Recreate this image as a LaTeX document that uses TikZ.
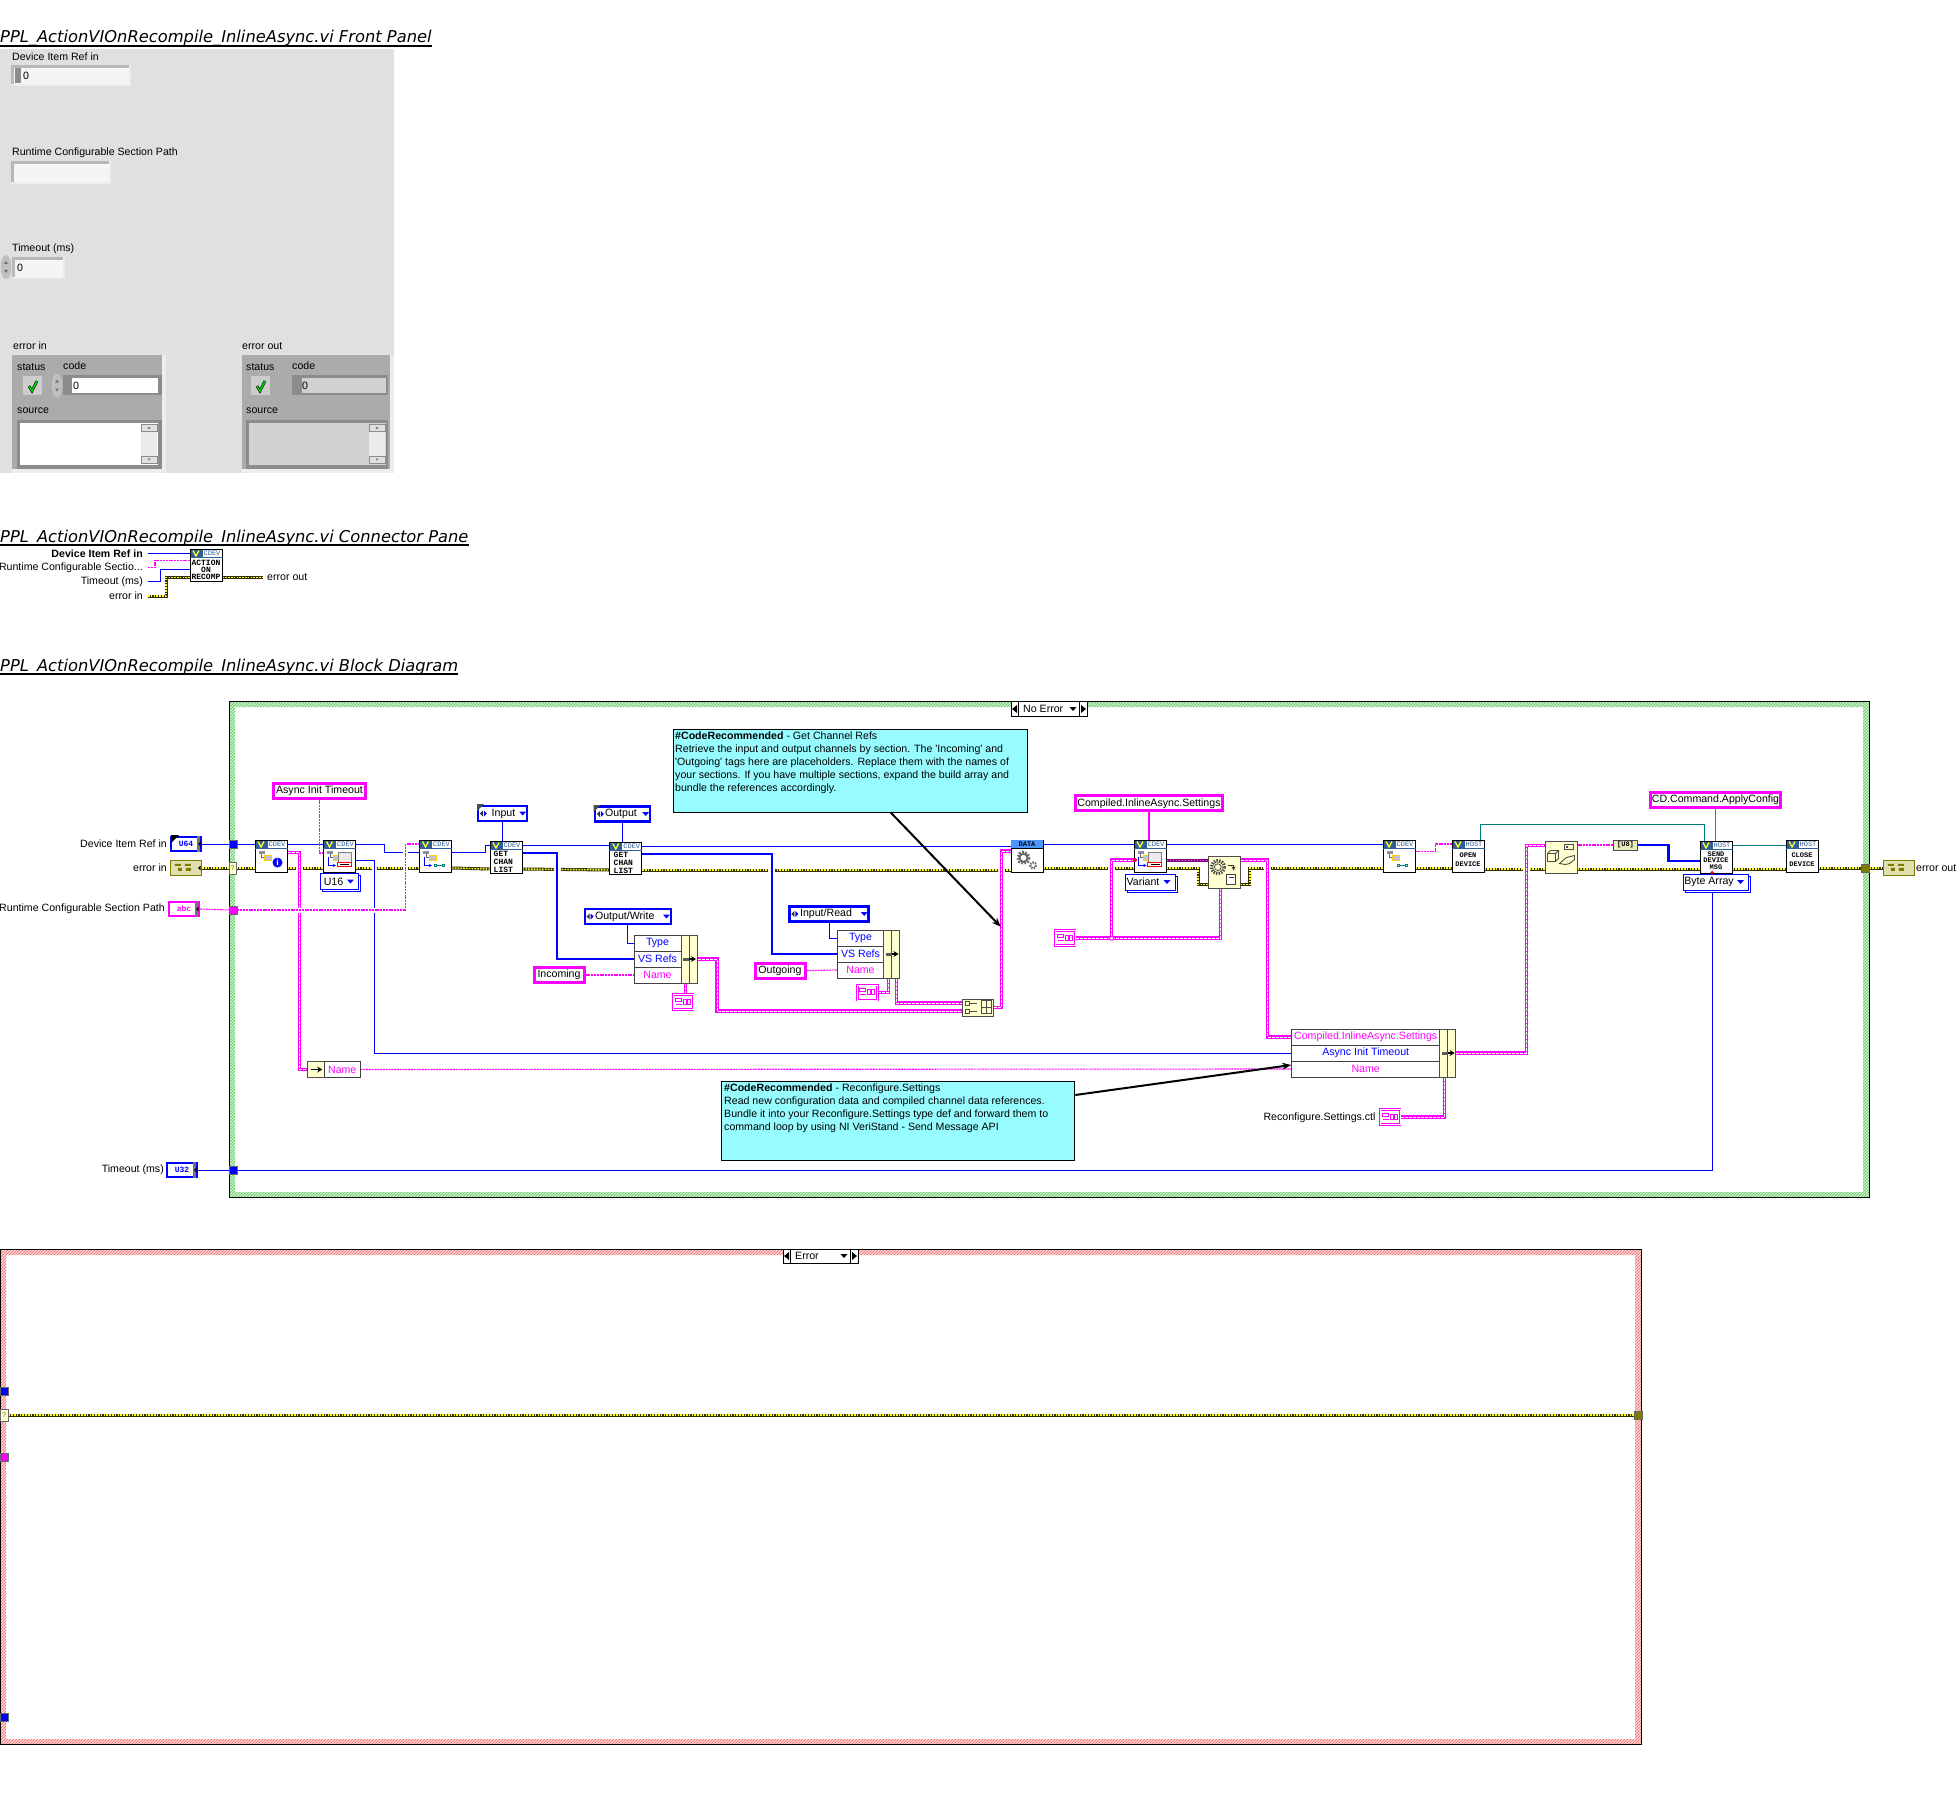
\documentclass[tikz,border=0pt]{standalone}
\usepackage{fontspec}
\setmainfont{Liberation Sans}
\setmonofont{Liberation Mono}
\newfontfamily\titlefont{DejaVu Sans}
\usetikzlibrary{arrows.meta,positioning,calc,backgrounds,patterns,shadows}
\definecolor{lvpink}{HTML}{FF00FF}
\definecolor{lvblue}{HTML}{0000FF}
\definecolor{lvolive}{HTML}{7F7A00}
\definecolor{lvyel}{HTML}{FFFF2E}
\definecolor{lvteal}{HTML}{007C7C}
\definecolor{lvpurple}{HTML}{800080}
\definecolor{hdblue}{HTML}{2F5F96}
\definecolor{cream}{HTML}{FFFFCF}
\definecolor{notecyan}{HTML}{96FCFF}
\definecolor{fpgray}{HTML}{E0E0E0}
\definecolor{clgray}{HTML}{ABABAB}
\definecolor{tgray}{HTML}{8C8C9C}
\definecolor{hatchg}{HTML}{5DBE5D}
\definecolor{baseg}{HTML}{CDF2CD}
\definecolor{hatchr}{HTML}{EE6666}
\definecolor{baser}{HTML}{FFD6D6}
% a front panel field: light rim, dark top and left edge, then the face
\newcommand{\fpbox}[5]{%
  \fill[white!93!black] (#1,#2) rectangle (#3,#4);
  \fill[black!28] (#1,#2) rectangle ($(#3,#4)+(-2,-2)$);
  \fill[#5] ($(#1,#2)+(3,3)$) rectangle ($(#3,#4)+(-2,-2)$);}
\newcommand{\fpspin}[2]{%
  \fill[black!25] (#1,#2) ellipse (5.5 and 12);
  \fill[black!55] ($(#1,#2)+(-2,-3)$) -- ++(4,0) -- ++(-2,-3) -- cycle;
  \fill[black!55] ($(#1,#2)+(-2,3)$) -- ++(4,0) -- ++(-2,3) -- cycle;}
\newcommand{\fpcheck}[2]{%
  \fill[black!20] (#1,#2) rectangle ++(19,19);
  \draw[black,line width=2.6] ($(#1,#2)+(6,10)$) -- ++(3,5) -- ++(5,-10);
  \draw[green!85!black,line width=1.4] ($(#1,#2)+(6,10)$) -- ++(3,5) -- ++(5,-10);}
\newcommand{\fpscroll}[3]{%
  \fill[black!8] (#1,#2) rectangle ++(16,#3);
  \draw[black!45,fill=black!12] (#1,#2) rectangle ++(16,7);
  \draw[black!45,fill=black!12] ($(#1,#2)+(0,#3-7)$) rectangle ++(16,7);
  \fill[black!60] ($(#1,#2)+(6.5,4.5)$) -- ++(3,0) -- ++(-1.5,-2) -- cycle;
  \fill[black!60] ($(#1,#2)+(6.5,#3-4.5)$) -- ++(3,0) -- ++(-1.5,2) -- cycle;}
% little pictures inside the icons, px offsets from the north west corner
\newcommand{\gltree}[1]{\begin{scope}[shift=(#1.north west)]
  \fill[tgray] (4,11) rectangle (10,14);
  \draw[black!60,line width=.7] (7,14) |- (10,18);
  \draw[orange!40!yellow,fill=tgray!50,line width=1] (10,15.5) rectangle (17,21);
  \end{scope}}
\newcommand{\glblue}[1]{\begin{scope}[shift=(#1.north west)]
  \draw[lvblue,line width=.9,-{Stealth[length=3pt,width=3pt]}] (5,17) |- (13,26);
  \end{scope}}
\newcommand{\glpanel}[1]{\begin{scope}[shift=(#1.north west)]
  \draw[black!50,fill=black!8,line width=.8] (15,13) rectangle (28,27);
  \draw[red,line width=1,fill=white] (14,23) rectangle (28,27);
  \draw[black,line width=.8] (17,25) -- (26,25);
  \end{scope}}
\newcommand{\glkey}[1]{\begin{scope}[shift=(#1.north west)]
  \draw[lvteal,line width=.9] (15,25) rectangle ++(2,2) (17,26) -- (23,26) (23,25) rectangle ++(2,2);
  \end{scope}}
\tikzset{x=1pt,y=-1pt,
  lb/.style={inner sep=0pt,font=\fontsize{10.6}{12}\selectfont},
  ttl/.style={inner sep=0pt,anchor=base west,font=\titlefont\itshape\fontsize{16.3}{18}\selectfont},
  ul/.style={black,line width=1.2},
  vi/.style={draw=black,fill=white,line width=1,minimum size=32,inner sep=0pt},
  vitag/.style={inner sep=0pt,text=hdblue,font=\ttfamily\fontsize{7}{7}\selectfont},
  vitxt/.style={inner sep=0pt,align=center,font=\ttfamily\bfseries\fontsize{7}{#1}\selectfont},
  vitxt/.default=8,
  vitxl/.style={inner sep=0pt,align=left,anchor=west,font=\ttfamily\bfseries\fontsize{8}{8}\selectfont},
  cnst/.style={draw=lvpink,fill=white,line width=3,inner sep=0pt,minimum height=15,font=\fontsize{10.6}{12}\selectfont},
  ring/.style={draw=lvblue,fill=white,line width=2.4,inner sep=0pt,minimum height=15,font=\fontsize{10.6}{12}\selectfont},
  ringd/.style={draw=lvblue,fill=white,line width=1,inner sep=0pt,minimum height=16,font=\fontsize{10.6}{12}\selectfont,
    copy shadow={shadow xshift=2pt,shadow yshift=-2pt,draw=lvblue,fill=white}},
  cell/.style={draw=black!75,fill=white,line width=1,inner sep=0pt,minimum height=16,font=\fontsize{10.6}{12}\selectfont},
  band/.style={draw=black!70,fill=cream,line width=1,inner sep=0pt,minimum width=16},
  tdef/.style={draw=lvpink,fill=white,line width=1,double=white,double distance=.9,inner sep=0pt,minimum width=20,minimum height=15},
  term/.style={draw=#1,fill=white,line width=2.2,inner sep=0pt,minimum width=30,minimum height=14,text=#1,font=\ttfamily\bfseries\fontsize{8}{8}\selectfont},
  tun/.style={draw=black!60,fill=#1,line width=.6,inner sep=0pt,minimum size=8},
  note/.style={draw=black,fill=notecyan,line width=1,inner sep=0pt},
  notetxt/.style={inner sep=0pt,anchor=north west,align=left,font=\fontsize{10.6}{13}\selectfont},
  narr/.style={black,line width=2,-{Stealth[length=9pt,width=7pt]}},
  sel/.style={draw=black,fill=white,line width=1,inner sep=0pt,minimum height=15},
  wb/.style={lvblue,line width=1},
  wbk/.style={lvblue,line width=2.4},
  wt/.style={lvteal,line width=1},
  wp/.style={lvpink,line width=1.1,dash pattern=on 2pt off .8pt},
  wpk/.style={lvpink,line width=3.4,postaction={draw=white,line width=1,dash pattern=on 3pt off 1pt}},
  we/.style={black!60!lvolive,line width=3,postaction={draw=lvyel,line width=1.4,dash pattern=on 1.6pt off 1.2pt}},
  hl/.style={preaction={draw=white,solid,line width=#1}},
  hl/.default=7}
\begin{document}
\begin{tikzpicture}
\useasboundingbox (0,0) rectangle (1957,1795);
% --- titles
\node[ttl] (tfront) at (0,43) {PPL\_ActionVIOnRecompile\_InlineAsync.vi Front Panel};
\node[ttl] (tconn) at (0,542) {PPL\_ActionVIOnRecompile\_InlineAsync.vi Connector Pane};
\node[ttl] (tblock) at (0,671) {PPL\_ActionVIOnRecompile\_InlineAsync.vi Block Diagram};
\foreach \t in {tfront,tconn,tblock}
  \draw[ul] ([yshift=-3]\t.base west) -- ([yshift=-3]\t.base east);

% --- front panel
\fill[fpgray] (0,49) rectangle (394,472.5);
\node[lb,anchor=west] (fdev) at (12,57) {Device Item Ref in};
\fpbox{11}{65}{131}{86}{white!96!black}
\fill[black!45] (15,68) rectangle (21,83);
\node[lb,anchor=west] (fdevv) at (23,75.5) {0};
\node[lb,anchor=west] (fpath) at (12,152.6) {Runtime Configurable Section Path};
\fpbox{11}{161}{111}{184}{white!96!black}
\node[lb,anchor=west] (ftime) at (12,249) {Timeout (ms)};
\fpspin{6}{267}
\fpbox{12}{257}{65}{279}{white!96!black}
\node[lb,anchor=west] (ftimev) at (17,267.5) {0};
% error in
\node[lb,anchor=west] (feri) at (13,346) {error in};
\fill[white!93!black] (12,355) rectangle (166,472.5);
\fill[clgray] (12,355) rectangle (162,468.5);
\node[lb,anchor=west] (feris) at (17,367) {status};
\node[lb,anchor=west] (feric) at (63,366) {code};
\fpcheck{23}{376}
\fpspin{57}{385.5}
\fill[black!45] (63,375) rectangle (162,395);
\fill[white] (72,377.6) rectangle (158,392.6);
\node[lb,anchor=west] (feriv) at (73,385.5) {0};
\node[lb,anchor=west] (ferir) at (17,411) {source};
\fill[black!45] (17,420) rectangle (162,468.5);
\fill[white] (20,423) rectangle (158,464.6);
\fpscroll{141}{424}{39}
% error out
\node[lb,anchor=west] (fero) at (242,346) {error out};
\fill[white!93!black] (242,355) rectangle (394,472.5);
\fill[clgray] (242,355) rectangle (390,468.5);
\node[lb,anchor=west] (feros) at (246,367) {status};
\node[lb,anchor=west] (feroc) at (292,366) {code};
\fpcheck{251}{376}
\fill[black!45] (292,375) rectangle (388,395);
\fill[black!18] (302,377.6) rectangle (386,392.6);
\node[lb,anchor=west] (ferov) at (302,385.5) {0};
\node[lb,anchor=west] (feror) at (246,411) {source};
\fill[black!45] (246,420) rectangle (388,468.5);
\fill[black!18] (249,423) rectangle (386,464.6);
\fpscroll{369}{424}{39}

% --- connector pane
\node[lb,anchor=east,font=\bfseries\fontsize{10.6}{12}\selectfont] (cdev) at (143,553.6) {Device Item Ref in};
\node[lb,anchor=east] (cpath) at (143,567.8) {Runtime Configurable Sectio...};
\node[lb,anchor=east] (ctime) at (143,581.7) {Timeout (ms)};
\node[lb,anchor=east] (cerr) at (143,596) {error in};
\node[lb,anchor=west] (cout) at (267,577.3) {error out};
\node[vi] (cicon) at (206,565) {};
\node[vitxt=7.2,font=\ttfamily\bfseries\fontsize{8}{7.2}\selectfont] (ciconx) at (206,569.6) {ACTION\\ON\\RECOMP};

% --- block diagram, the cases first
\begin{scope}[on background layer]
\path[fill=baseg,even odd rule] (229,701) rectangle (1869,1197) (235,707) rectangle (1863,1192);
\path[pattern=north east lines,pattern color=hatchg,even odd rule] (229,701) rectangle (1869,1197) (235,707) rectangle (1863,1192);
\draw[black,line width=1] (229,701) rectangle (1869,1197);
\path[fill=baser,even odd rule] (0,1249) rectangle (1641,1744) (6,1255) rectangle (1635,1739);
\path[pattern=north east lines,pattern color=hatchr,even odd rule] (0,1249) rectangle (1641,1744) (6,1255) rectangle (1635,1739);
\draw[black,line width=1] (.5,1249) rectangle (1641,1744);
\end{scope}
\node[sel,minimum width=76] (selok) at (1049,709) {};
\node[lb,anchor=west] (seloktx) at (1023,709) {No Error};
\node[sel,minimum width=75,minimum height=14] (selerr) at (820.5,1256) {};
\node[lb,anchor=west] (selerrtx) at (795,1256) {Error};
\foreach \s in {selok,selerr}{
  \draw[black,line width=1] ([xshift=8]\s.north west) -- ([xshift=8]\s.south west);
  \draw[black,line width=1] ([xshift=-8]\s.north east) -- ([xshift=-8]\s.south east);
  \fill ([xshift=1.5]\s.west) -- ++(5,-4) -- ++(0,8) -- cycle;
  \fill ([xshift=-1.5]\s.east) -- ++(-5,-4) -- ++(0,8) -- cycle;
  \fill ([shift={(-18,-2)}]\s.east) -- ++(7,0) -- ++(-3.5,4) -- cycle;
}
% terminals and labels on the left
\node[lb,anchor=east] (ldev) at (167,844) {Device Item Ref in};
\node[lb,anchor=east] (lerr) at (167,868) {error in};
\node[lb,anchor=east] (lpath) at (165,909) {Runtime Configurable Section Path};
\node[lb,anchor=east] (ltime) at (164,1170) {Timeout (ms)};
\node[term=lvblue] (tdev) at (186,844) {U64};
\node[term=lvolive] (terr) at (186,868) {};
\node[term=lvpink] (tpath) at (184,909) {abc};
\node[term=lvblue] (ttime) at (182,1170) {U32};
\node[term=lvolive] (teout) at (1899,868) {};
\node[lb,anchor=west] (leout) at (1916,868) {error out};
\foreach \e in {terr,teout}{
  \fill[cream!60!lvolive!60] ([shift={(1,1)}]\e.north west) rectangle ([shift={(-1,-1)}]\e.south east);
  \fill[lvolive] ([shift={(5,4)}]\e.north west) rectangle ++(6,2) ([shift={(8,8)}]\e.north west) rectangle ++(4,3)
    ([shift={(15,4)}]\e.north west) rectangle ++(6,2) ([shift={(16,8)}]\e.north west) rectangle ++(5,3);
}
\foreach \e in {tdev,tpath,ttime}{
  \fill[black!55] ([xshift=-5]\e.north east) rectangle ([xshift=-2.5]\e.south east);
}
\foreach \e in {tdev,terr,tpath,ttime}
  \fill[black] ([xshift=-4]\e.east) -- ++(2.5,-2.5) -- ++(0,5) -- cycle;
\fill (171,835) -- (179,835) -- (171,843) -- cycle;
\node[tun=lvblue] (bdev) at (233,844) {};
\node[tun=cream,minimum width=7,minimum height=12,text=lvolive,font=\fontsize{7}{7}\selectfont] (berr) at (232.5,868) {?};
\node[tun=lvpink] (bpath) at (233,910) {};
\node[tun=lvblue] (btime) at (233,1170) {};
\node[tun=lvolive] (beout) at (1865,868) {};

% the icons along the top row
\node[vi] (vinfo) at (271,856) {};
\node[vi] (vprop) at (339.5,856) {};
\node[vi] (vkey) at (435.5,856) {};
\node[vi] (vin) at (506,857) {};
\node[vi] (vout) at (625.75,858) {};
\node[vi] (vdata) at (1027,856) {};
\node[vi] (vcomp) at (1150,856) {};
\node[vi] (vkeyb) at (1399,856) {};
\node[vi] (vopen) at (1468,856) {};
\node[vi] (vsend) at (1716,857) {};
\node[vi] (vclose) at (1802,856) {};
\node[vi,draw=black!70,fill=cream] (vgear) at (1224,872) {};
\node[vi,draw=black!70,fill=cream] (vfunc) at (1561,857) {};
\foreach \v/\tg in {cicon/CDEV,vinfo/CDEV,vprop/CDEV,vkey/CDEV,vin/CDEV,vout/CDEV,vcomp/CDEV,vkeyb/CDEV,vopen/HOST,vsend/HOST,vclose/HOST}{
  \fill[hdblue] ([shift={(1,1)}]\v.north west) rectangle ([shift={(13,8)}]\v.north west);
  \draw[lvyel,line width=1.3] ([shift={(3.5,2)}]\v.north west) -- ++(3,5.5) -- ++(3,-5.5);
  \draw[hdblue,line width=.9] ([yshift=-8.6]\v.north west) -- ([yshift=-8.6]\v.north east);
  \node[vitag] (\v-tag) at ([shift={(22.5,4.8)}]\v.north west) {\tg};
}
\fill[blue!60!cyan!70] ([shift={(.6,.6)}]vdata.north west) rectangle ([shift={(-.6,8)}]vdata.north east);
\draw[black,line width=.9] ([yshift=-8.6]vdata.north west) -- ([yshift=-8.6]vdata.north east);
\node[vitxt] (vdatatx) at ([yshift=-4.6]vdata.north) {DATA};
\node[vitxl] (vintx) at (493.5,862) {GET\\CHAN\\LIST};
\node[vitxl] (vouttx) at (613.5,863) {GET\\CHAN\\LIST};
\node[vitxt=9] (vopentx) at (1468,859.5) {OPEN\\DEVICE};
\node[vitxt=6.5] (vsendtx) at (1716,860.5) {SEND\\DEVICE\\MSG};
\node[vitxt=9] (vclosetx) at (1802,859.5) {CLOSE\\DEVICE};
\gltree{vinfo} \gltree{vprop} \gltree{vkey} \gltree{vcomp} \gltree{vkeyb}
\glblue{vprop} \glblue{vkey} \glblue{vcomp}
\glpanel{vprop} \glpanel{vcomp}
\glkey{vkey} \glkey{vkeyb}
\node[circle,fill=lvblue,minimum size=10,inner sep=0pt,text=white,font=\bfseries\fontsize{9}{9}\selectfont] (vinfoi) at ([shift={(23,23)}]vinfo.north west) {i};
% gears
\draw[black!60,line width=3.2,dash pattern=on 1.6pt off 1.4pt] ([shift={(13,18.3)}]vdata.north west) circle (5.5);
\draw[black!60,line width=1.8] ([shift={(13,18.3)}]vdata.north west) circle (4);
\draw[black!60,line width=2.2,dash pattern=on 1.4pt off 1.2pt] ([shift={(22.6,26)}]vdata.north west) circle (3);
\draw[black!70,line width=3.4,dash pattern=on 1.4pt off 1.2pt] ([shift={(10.3,11.7)}]vgear.north west) circle (6.4);
\draw[black!70,line width=.8] ([shift={(10.3,11.7)}]vgear.north west) circle (3.4);
\draw[black!80,line width=1.4,-{Stealth[length=4pt,width=4pt]}] ([shift={(20,10)}]vgear.north west) -- ++(6,0) -- ++(0,5);
\draw[black!75,fill=white,line width=1.6] ([shift={(19,19)}]vgear.north west) rectangle ++(9,10);
\draw[black!75,line width=1] ([shift={(21,22)}]vgear.north west) -- ++(5,0);
% the function box, cube and hand
\draw[black!70,line width=.9] ([shift={(3,13)}]vfunc.north west) rectangle ++(8,8) ++(-8,-8) -- ++(3,-3) -- ++(8,0) -- ++(-3,3) ++(0,8) -- ++(3,-3) -- ++(0,-8);
\draw[black!70,line width=.9] ([shift={(15,23)}]vfunc.north west) -- ++(7,-6) -- ++(8,-2) -- ++(0,4) -- ++(-5,4) -- ++(-4,1) -- cycle;
\draw[black!70,line width=.9] ([shift={(20,4)}]vfunc.north west) rectangle ++(9,5);
\fill[black!70] ([shift={(21,5.5)}]vfunc.north west) rectangle ++(2.5,2);
% constants and rings
\node[cnst,minimum width=92] (casync) at (319.5,790.5) {Async Init Timeout};
\node[cnst,minimum width=50] (cinc) at (559,975) {Incoming};
\node[cnst,minimum width=50] (cout2) at (780,970.5) {Outgoing};
\node[cnst,minimum width=147] (ccomp) at (1149,803.3) {Compiled.InlineAsync.Settings};
\node[cnst,minimum width=130] (ccd) at (1715.5,799.7) {CD.Command.ApplyConfig};
\node[ring,minimum width=49] (rin) at (502.5,813.5) {\hspace*{7pt}Input\hspace*{5pt}};
\node[ring,minimum width=55] (rout) at (622.5,814) {\hspace*{5pt}Output\hspace*{8pt}};
\node[ring,minimum width=86] (rwr) at (627.75,916.5) {\hspace*{2pt}Output/Write\hspace*{8pt}};
\node[ring,minimum width=79] (rrd) at (829,914) {\hspace*{2pt}Input/Read\hspace*{8pt}};
\foreach \r in {rin,rout,rwr,rrd}{
  \fill[lvblue] ([shift={(-9,-2)}]\r.east) -- ++(7,0) -- ++(-3.5,4) -- cycle;
  \fill[black!80] ([xshift=3]\r.west) -- ++(3,-3) -- ++(0,6) -- cycle;
  \fill[lvblue] ([xshift=10]\r.west) -- ++(-3,-3) -- ++(0,6) -- cycle;
}
\fill[black!70] (477,804) -- (484,804) -- (477,811) -- cycle;
\fill[black!70] (593.5,805) -- (600.5,805) -- (593.5,812) -- cycle;
\node[ringd,minimum width=38] (ru16) at (339.5,881.5) {\hspace*{-12pt}U16};
\node[ringd,minimum width=50] (rvar) at (1150,882) {\hspace*{-14pt}Variant};
\node[ringd,minimum width=65] (rbyte) at (1716,882) {\hspace*{-14pt}Byte Array};
\foreach \r in {ru16,rvar,rbyte}
  \fill[lvblue] ([shift={(-12,-2)}]\r.east) -- ++(7,0) -- ++(-3.5,4) -- cycle;
% bundles
\node[cell,text=lvblue,minimum width=47] (btype) at (657.5,943) {Type};
\node[cell,text=lvblue,minimum width=47] (brefs) at (657.5,959) {VS Refs};
\node[cell,text=lvpink,minimum width=47] (bname) at (657.5,975) {Name};
\node[band,minimum height=48] (bbar) at (689,959) {};
\node[cell,text=lvblue,minimum width=46] (ctype) at (860.5,938) {Type};
\node[cell,text=lvblue,minimum width=46] (crefs) at (860.5,954) {VS Refs};
\node[cell,text=lvpink,minimum width=46] (cname) at (860.5,970) {Name};
\node[band,minimum height=48] (cbar) at (891.5,954) {};
\node[cell,text=lvpink,minimum width=148] (dcomp) at (1365.7,1037) {Compiled.InlineAsync.Settings};
\node[cell,text=lvblue,minimum width=148] (dtime) at (1365.7,1053) {Async Init Timeout};
\node[cell,text=lvpink,minimum width=148] (dname) at (1365.7,1069) {Name};
\node[band,minimum height=48] (dbar) at (1447.7,1053) {};
\foreach \b in {bbar,cbar,dbar}{
  \draw[black!70,line width=1] (\b.north) -- (\b.south);
  \draw[black!65,line width=3] ([xshift=-6]\b.center) -- (\b.center);
  \draw[black,line width=1.6,-{Stealth[length=5pt,width=6pt]}] (\b.center) -- ([xshift=7]\b.center);
}
\node[band,minimum height=16,minimum width=16.5] (nbar) at (316.2,1069.5) {};
\node[cell,text=lvpink,minimum width=35.5,minimum height=15.5] (nname) at (342.25,1069.5) {Name};
\draw[black,line width=1.8,-{Stealth[length=5pt,width=6pt]}] ([xshift=-5]nbar.center) -- ([xshift=6]nbar.center);
% type def constants
\node[tdef] (tda) at (683,1002) {};
\node[tdef] (tdb) at (867.25,992.5) {};
\node[tdef] (tdc) at (1065,938) {};
\node[tdef] (tdd) at (1390,1117) {};
\foreach \d in {tda,tdb,tdc,tdd}{
  \draw[lvpink,line width=.8] ([shift={(3,4)}]\d.north west) rectangle ++(6,3) ([shift={(3,10)}]\d.north west) -- ++(6,0)
    ([shift={(11,5)}]\d.north west) rectangle ++(2.5,5) ([shift={(15,5)}]\d.north west) rectangle ++(2.5,5);
}
\node[lb,anchor=east] (ldd) at (1375.7,1118) {Reconfigure.Settings.ctl};
% build array, converter
\node[vi,draw=black!70,fill=cream,minimum width=31,minimum height=17,line width=1] (bld) at (978,1007.5) {};
\draw[black!70,line width=.8] ([shift={(3,2.5)}]bld.north west) rectangle ++(4,4) ([shift={(3,10.5)}]bld.north west) rectangle ++(4,4)
  ([shift={(8,4.5)}]bld.north west) -- ++(7,0) ([shift={(8,12.5)}]bld.north west) -- ++(7,0)
  ([shift={(19,2)}]bld.north west) rectangle ++(10,13) ([shift={(24,2)}]bld.north west) -- ++(0,13) ([shift={(19,8.5)}]bld.north west) -- ++(10,0);
\node[draw=black!70,fill=black!8!cream,line width=1,inner sep=0pt,minimum width=24,minimum height=10,font=\ttfamily\bfseries\fontsize{7}{7}\selectfont] (tou8) at (1625.5,845) {[U8]};
\node[fill=red,circle,minimum size=4,inner sep=0pt] (rda) at (1135,860) {};
\node[fill=red,circle,minimum size=3.5,inner sep=0pt] (rdb) at (1712,872.5) {};
\node[circle,draw=lvpink,fill=white,line width=.8,minimum size=4,inner sep=0pt] (jcomp) at (1111.7,938.3) {};
% error case tunnels
\node[tun=lvblue,minimum height=8] (xdev) at (4,1391) {};
\node[tun=cream,minimum width=8,minimum height=12,text=lvolive,font=\fontsize{7}{7}\selectfont] (xerr) at (4,1415) {?};
\node[tun=lvpink] (xpath) at (4,1457) {};
\node[tun=lvblue] (xtime) at (4,1717) {};
\node[tun=lvolive] (xout) at (1638,1415) {};
% comments
\node[note,minimum width=354,minimum height=83] (cmtchan) at (850,770.5) {};
\node[notetxt] (cmtchantx) at (675,732) {\textbf{\#CodeRecommended} - Get Channel Refs\\Retrieve the input and output channels by section. The \textquotesingle Incoming\textquotesingle{} and\\\textquotesingle Outgoing\textquotesingle{} tags here are placeholders. Replace them with the names of\\your sections. If you have multiple sections, expand the build array and\\bundle the references accordingly.};
\node[note,minimum width=353,minimum height=78.5] (cmtreco) at (898.3,1121) {};
\node[notetxt] (cmtrecotx) at (724,1084) {\textbf{\#CodeRecommended} - Reconfigure.Settings\\Read new configuration data and compiled channel data references.\\Bundle it into your Reconfigure.Settings type def and forward them to\\command loop by using NI VeriStand - Send Message API};
\coordinate (cmttip) at (1000.7,926.7);
\draw[narr] ([xshift=40.7]cmtchan.south) -- (cmttip);
\draw[narr] ([yshift=26]cmtreco.east) -- ([yshift=4]dname.west);

% --- the wires go under the icons
\begin{scope}[on background layer]
% connector pane
\draw[wb] ([xshift=5]cdev.east) -- ([yshift=11.4]cicon.west);
\draw[wp] ([xshift=5]cpath.east) -- ++(7,0) |- ([yshift=4.7]cicon.west);
\draw[wb] ([xshift=5]ctime.east) -- ++(12,0) |- ([yshift=-4.4]cicon.west);
\draw[we] ([xshift=5]cerr.east) -- ++(18,0) |- ([yshift=-12.3]cicon.west);
\draw[we] ([yshift=-12.3]cicon.east) -- ([xshift=-4]cout.west);
% error line, left to right
\draw[we] (terr.east) -- (berr.west);
\draw[we] (berr.east) -- ([yshift=-12]vinfo.west);
\foreach \a/\b in {vinfo/vprop,vprop/vkey,vkey/vin}
  \draw[we] ([yshift=-12]\a.east) -- ([yshift=-12]\b.west);
\draw[we] ([yshift=-12]vin.east) -- ([yshift=-12]vout.west);
\draw[we] ([yshift=-12]vout.east) -- ([yshift=-14]vdata.west);
\draw[we] ([yshift=-12]vdata.east) -- ([yshift=-12]vcomp.west);
\draw[we] ([yshift=-12]vcomp.east) -- ++(31.6,0) |- ([yshift=-12.3]vgear.west);
\draw[we] ([yshift=-12.3]vgear.east) -- ++(9.3,0) |- ([yshift=-12]vkeyb.west);
\draw[we] ([yshift=-12]vkeyb.east) -- ([yshift=-12]vopen.west);
\draw[we] ([yshift=-13]vopen.east) -- ([yshift=-12]vfunc.west);
\draw[we] ([yshift=-12]vfunc.east) -- ([yshift=-12]vsend.west);
\draw[we] ([yshift=-12]vsend.east) -- ([yshift=-13]vclose.west);
\draw[we] ([yshift=-12]vclose.east) -- (beout.west);
\draw[we] (beout.east) -- (teout.west);
\draw[we] (xerr.east) -- (xout.west);
% references along the top
\draw[wb] (tdev.east) -- (bdev.west);
\draw[wb] (bdev.east) -- ([yshift=12]vinfo.west);
\draw[wb] ([yshift=12]vinfo.east) -- ([yshift=12]vprop.west);
\draw[wb] ([yshift=12]vprop.east) -- ++(28,0) |- ([yshift=4]vkey.west);
\draw[wb] ([yshift=4]vkey.east) -- ++(33,0) |- ([yshift=11.7]vin.west);
\draw[wb] ([yshift=11.7]vin.east) -- ([yshift=12.7]vout.west);
\draw[wb] ([yshift=12]vout.east) -- ([yshift=10]vdata.west);
\draw[wb] ([yshift=11.3]vdata.east) -- ([yshift=11.3]vcomp.west);
\draw[wb] ([yshift=11.3]vcomp.east) -- ([yshift=11.3]vkeyb.west);
\draw[wb] (rin.south) -- (rin.south |- vin.north);
\draw[wb] (rout.south) -- (rout.south |- vout.north);
\draw[wb] (rwr.south) |- (btype.west);
\draw[wb] (rrd.south) |- (ctype.west);
\draw[wbk,hl] ([yshift=4]vin.east) -- ++(34.5,0) |- (brefs.west);
\draw[wbk,hl] ([yshift=4]vout.east) -- ++(129.5,0) |- (crefs.west);
\draw[wb,hl=5] ([yshift=-4]vprop.east) -- ++(18.5,0) |- (dtime.west);
\draw[wb] (ttime.east) -- (btime.west);
\draw[wb] (btime.east) -| ([xshift=-3.7]rbyte.south);
% strings
\draw[wp] (tpath.east) -- (bpath.west);
\draw[wp] (casync.south) |- ([yshift=3]vprop.west);
\draw[wp] (cinc.east) -- (bname.west);
\draw[wp] (cout2.east) -- (cname.west);
\draw[wp] (nname.east) -- (dname.west);
\draw[wpk,hl] ([yshift=3.3]vinfo.east) -- ++(12,0) |- (nbar.west);
\draw[wp,hl=5] (bpath.east) -- ++(168.5,0) |- ([yshift=12]vkey.west);
\draw[wpk] (bbar.east) -- ++(19.5,0) |- ([yshift=-3.5]bld.west);
\draw[wpk] ([xshift=2.5]tda.north) -- ([xshift=2.5]tda.north |- bbar.south);
\draw[wpk] (tdb.east) -| ([xshift=-3]cbar.south);
\draw[wpk] ([xshift=5]cbar.south) |- ([yshift=4.5]bld.west);
\draw[wpk,hl] (bld.east) -- ++(7.5,0) |- ([yshift=5]vdata.west);
\draw[lvpink,line width=1.6] (ccomp.south) -- (ccomp.south |- vcomp.north);
\draw[wpk,hl] (tdc.east) -| ([xshift=-3.3]vgear.south);
\draw[wpk,hl] (jcomp.north) |- ([yshift=-4]vcomp.west);
\draw[lvpurple,line width=3,postaction={draw=lvpink!60,line width=.8,dash pattern=on 1pt off 2pt}] ([yshift=-4]vcomp.east) -- ([yshift=12]vgear.west);
\draw[wpk,hl] ([yshift=12]vgear.east) -- ++(26.7,0) |- (dcomp.west);
\draw[wpk] (tdd.east) -| ([xshift=-3.4]dbar.south);
\draw[wpk,hl] (dbar.east) -- ++(70,0) |- ([yshift=11.7]vfunc.west);
\draw[wp] ([yshift=4.3]vkeyb.east) -- ++(20.3,0) |- ([yshift=12]vopen.west);
\draw[wp] ([yshift=12]vfunc.east) -- (tou8.west);
\draw[wbk] (tou8.east) -- ++(30.3,0) |- ([yshift=-3.7]vsend.west);
\draw[lvpink,line width=1.6] (ccd.south) -- (ccd.south |- vsend.north);
% device handle
\draw[wt] ([xshift=12.3]vopen.north) |- ++(0,-15) -| ([xshift=-11.3]vsend.north);
\draw[wt] ([yshift=11.7]vsend.east) -- ([yshift=10.7]vclose.west);
\end{scope}
\end{tikzpicture}
\end{document}
